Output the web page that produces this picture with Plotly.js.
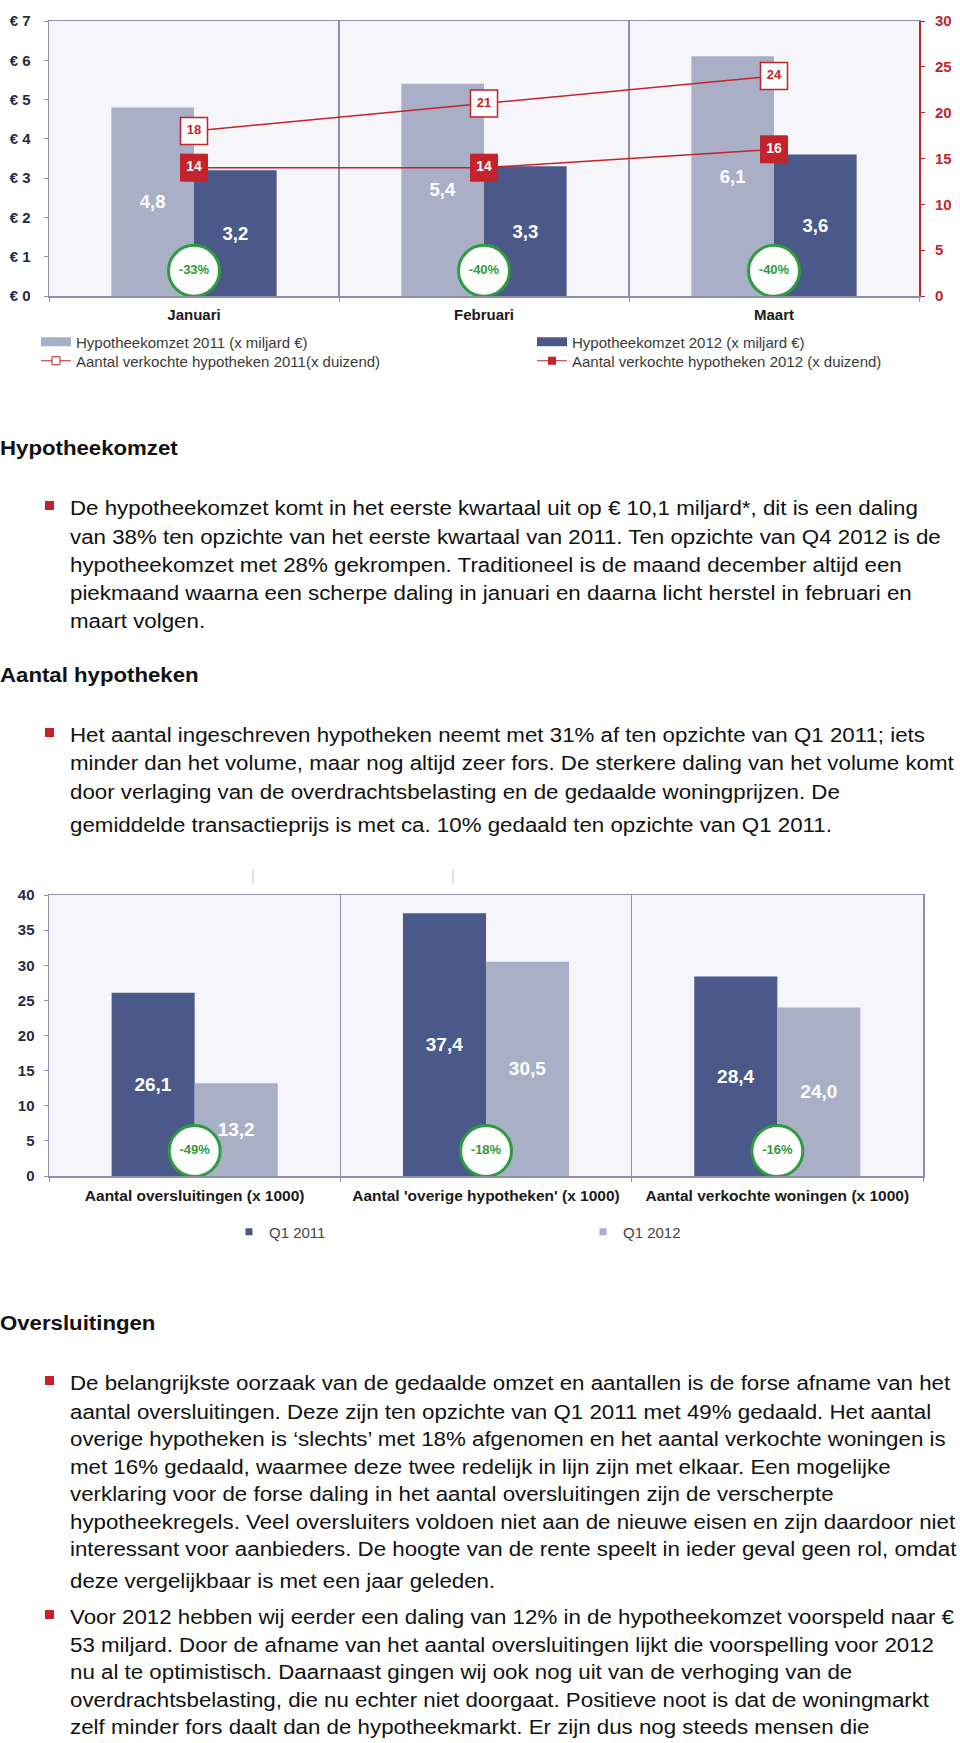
<!DOCTYPE html>
<html>
<head>
<meta charset="utf-8">
<script src="https://cdn.plot.ly/plotly-3.0.1.min.js"></script>
<style>
  html, body { margin:0; padding:0; background:#ffffff; }
  body { width:960px; height:1743px; position:relative; overflow:hidden;
         font-family:"Liberation Sans", Arial, Helvetica, sans-serif; color:#111; }
  #chart1 { position:absolute; left:0; top:0; width:960px; height:380px; }
  #chart2 { position:absolute; left:0; top:860px; width:960px; height:400px; }
  .ln { position:absolute; left:70px; height:28px; line-height:28px; font-size:20px;
        white-space:nowrap; transform-origin:0 50%; transform:scaleX(1.115); }
  .hd { position:absolute; left:0; height:28px; line-height:28px; font-size:20px; font-weight:bold;
        white-space:nowrap; transform-origin:0 50%; transform:scaleX(1.11); }
  .bl { position:absolute; left:45px; width:8.5px; height:8.5px; background:#c8202a; }
</style>
</head>
<body>
<div id="chart1"></div>
<div id="chart2"></div>
<div id="text"></div>
<script>
// ---------- Chart 1 data ----------
const months = ['Januari', 'Februari', 'Maart'];
const omzet2011 = [4.8, 5.4, 6.1];
const omzet2012 = [3.2, 3.3, 3.6];
const verkocht2011 = [18, 21, 24];
const verkocht2012 = [14, 14, 16];
const daling1 = ['-33%', '-40%', '-40%'];
const euroTicks = [0, 1, 2, 3, 4, 5, 6, 7];
const euroTickLabels = ['€ 0', '€ 1', '€ 2', '€ 3', '€ 4', '€ 5', '€ 6', '€ 7'];

// ---------- Chart 2 data ----------
const cats2 = ['Aantal oversluitingen (x 1000)', "Aantal 'overige hypotheken' (x 1000)", 'Aantal verkochte woningen (x 1000)'];
const q1_2011 = [26.1, 37.4, 28.4];
const q1_2012 = [13.2, 30.5, 24.0];
const daling2 = ['-49%', '-18%', '-16%'];

// ---------- styling ----------
const FONT = 'Liberation Sans, Arial, Helvetica, sans-serif';
const LIGHT = '#a9afc7';
const DARK = '#4b598a';
const RED = '#c4232b';
const GREEN = '#2e9b3e';
const FRAME = '#8e90a6';
const AXISTXT = '#262a45';
const CIRCLE_Y1 = 0.64;
const CIRCLE_Y2 = 3.56;

function legendAt(xpx, ypx, w, h) {
  return { xref:'container', yref:'container', x: xpx / w, y: 1 - ypx / h,
           xanchor:'left', yanchor:'middle', bgcolor:'rgba(0,0,0,0)',
           font:{ family:FONT, size:15, color:'#3a3a3a' } };
}

const t1 = [
  { type:'bar', x:months, y:omzet2011, marker:{color:LIGHT}, showlegend:false, hoverinfo:'skip',
    texttemplate:'%{y:.1f}', textposition:'inside', insidetextanchor:'middle', textangle:0,
    textfont:{family:FONT, size:18.5, color:'#ffffff', weight:'bold'} },
  { type:'bar', x:months, y:omzet2012, marker:{color:DARK}, showlegend:false, hoverinfo:'skip',
    texttemplate:'%{y:.1f}', textposition:'inside', insidetextanchor:'middle', textangle:0,
    textfont:{family:FONT, size:18.5, color:'#ffffff', weight:'bold'} },
  { type:'scatter', x:months, y:months.map(() => CIRCLE_Y1), mode:'markers+text', text:daling1,
    textposition:'middle center', cliponaxis:false, showlegend:false, hoverinfo:'skip',
    marker:{symbol:'circle', size:51, color:'#ffffff', line:{color:GREEN, width:3}},
    textfont:{family:FONT, size:13, color:GREEN, weight:'bold'} },
  { type:'scatter', x:months, y:verkocht2011, yaxis:'y2', mode:'lines+markers+text',
    text:verkocht2011.map(String), textposition:'middle center', cliponaxis:false,
    showlegend:false, hoverinfo:'skip', line:{color:RED, width:1.5},
    marker:{symbol:'square', size:27, color:'#ffffff', line:{color:RED, width:1.5}},
    textfont:{family:FONT, size:13, color:RED, weight:'bold'} },
  { type:'scatter', x:months, y:verkocht2012, yaxis:'y2', mode:'lines+markers+text',
    text:verkocht2012.map(String), textposition:'middle center', cliponaxis:false,
    showlegend:false, hoverinfo:'skip', line:{color:RED, width:1.5},
    marker:{symbol:'square', size:27, color:RED, line:{color:RED, width:1}},
    textfont:{family:FONT, size:14, color:'#ffffff', weight:'bold'} },
  // legend entries
  { type:'scatter', x:[null], y:[null], mode:'lines', name:'Hypotheekomzet 2011 (x miljard €)',
    line:{color:LIGHT, width:9}, legend:'legend', hoverinfo:'skip' },
  { type:'scatter', x:[null], y:[null], mode:'lines', name:'Hypotheekomzet 2012 (x miljard €)',
    line:{color:DARK, width:9}, legend:'legend2', hoverinfo:'skip' },
  { type:'scatter', x:[null], y:[null], mode:'lines+markers', name:'Aantal verkochte hypotheken 2011(x duizend)',
    line:{color:RED, width:1.2}, marker:{symbol:'square', size:8, color:'#ffffff', line:{color:RED, width:1}},
    legend:'legend3', hoverinfo:'skip' },
  { type:'scatter', x:[null], y:[null], mode:'lines+markers', name:'Aantal verkochte hypotheken 2012 (x duizend)',
    line:{color:RED, width:1.2}, marker:{symbol:'square', size:8, color:RED},
    legend:'legend4', hoverinfo:'skip' }
];

const W = 960, H1 = 380, H2 = 400;
const l1 = {
  width:W, height:H1, margin:{l:49, r:41, t:21, b:84, autoexpand:false},
  paper_bgcolor:'rgba(0,0,0,0)', plot_bgcolor:'#f5f5fa',
  separators:',.', barmode:'group', bargap:0.43, bargroupgap:0,
  font:{family:FONT},
  xaxis:{type:'category', tickson:'boundaries', showgrid:true, gridcolor:FRAME, gridwidth:1.2,
         ticks:'outside', ticklen:4, tickcolor:FRAME, showline:true, linecolor:FRAME, linewidth:1.5,
         mirror:true, ticklabelstandoff:4, fixedrange:true, automargin:false, tickangle:0,
         tickfont:{family:FONT, size:15, color:'#1a1a1a', weight:'bold'}},
  yaxis:{range:[0,7], tickmode:'array', tickvals:euroTicks, ticktext:euroTickLabels,
         showgrid:false, zeroline:false,
         ticks:'outside', ticklen:4, tickcolor:FRAME, showline:true, linecolor:FRAME, linewidth:1.5,
         ticklabelstandoff:10, fixedrange:true, automargin:false,
         tickfont:{family:FONT, size:15, color:AXISTXT, weight:'bold'}},
  yaxis2:{overlaying:'y', side:'right', range:[0,30], dtick:5, showgrid:false, zeroline:false,
          ticks:'outside', ticklen:4, tickcolor:RED, showline:true, linecolor:RED, linewidth:1.5,
          tickprefix:'\u2002', fixedrange:true, automargin:false,
          tickfont:{family:FONT, size:15, color:RED, weight:'bold'}},
  legend: legendAt(36, 342, W, H1),
  legend2: legendAt(532, 342, W, H1),
  legend3: legendAt(36, 361, W, H1),
  legend4: legendAt(532, 361, W, H1)
};

Plotly.newPlot('chart1', t1, l1, {displayModeBar:false, staticPlot:true});

const t2 = [
  { type:'bar', x:cats2, y:q1_2011, marker:{color:DARK}, showlegend:false, hoverinfo:'skip',
    texttemplate:'%{y:.1f}', textposition:'inside', insidetextanchor:'middle', textangle:0,
    textfont:{family:FONT, size:19, color:'#ffffff', weight:'bold'} },
  { type:'bar', x:cats2, y:q1_2012, marker:{color:LIGHT}, showlegend:false, hoverinfo:'skip',
    texttemplate:'%{y:.1f}', textposition:'inside', insidetextanchor:'middle', textangle:0,
    textfont:{family:FONT, size:19, color:'#ffffff', weight:'bold'} },
  { type:'scatter', x:cats2, y:cats2.map(() => CIRCLE_Y2), mode:'markers+text', text:daling2,
    textposition:'middle center', cliponaxis:false, showlegend:false, hoverinfo:'skip',
    marker:{symbol:'circle', size:51, color:'#ffffff', line:{color:GREEN, width:3}},
    textfont:{family:FONT, size:13, color:GREEN, weight:'bold'} },
  { type:'scatter', x:[null], y:[null], mode:'markers', name:'Q1 2011',
    marker:{symbol:'square', size:7, color:DARK}, legend:'legend', hoverinfo:'skip' },
  { type:'scatter', x:[null], y:[null], mode:'markers', name:'Q1 2012',
    marker:{symbol:'square', size:7, color:LIGHT}, legend:'legend2', hoverinfo:'skip' }
];

const l2 = {
  width:W, height:H2, margin:{l:49, r:37, t:35, b:84, autoexpand:false},
  paper_bgcolor:'rgba(0,0,0,0)', plot_bgcolor:'#f5f5fa',
  separators:',.', barmode:'group', bargap:0.43, bargroupgap:0,
  font:{family:FONT},
  xaxis:{type:'category', tickson:'boundaries', showgrid:true, gridcolor:FRAME, gridwidth:1.2,
         ticks:'outside', ticklen:4, tickcolor:FRAME, showline:true, linecolor:FRAME, linewidth:1.5,
         mirror:true, ticklabelstandoff:5, fixedrange:true, automargin:false, tickangle:0,
         tickfont:{family:FONT, size:15.5, color:'#1a1a1a', weight:'bold'}},
  yaxis:{range:[0,40], dtick:5, showgrid:false, zeroline:false,
         ticks:'outside', ticklen:4, tickcolor:FRAME, showline:true, linecolor:FRAME, linewidth:1.5,
         mirror:true, ticklabelstandoff:6, fixedrange:true, automargin:false,
         tickfont:{family:FONT, size:15, color:AXISTXT, weight:'bold'}},
  shapes:[
    {type:'line', xref:'paper', yref:'paper', x0:0.2334, x1:0.2334, y0:1.039, y1:1.089, line:{color:'#d6d6d6', width:1.5}},
    {type:'line', xref:'paper', yref:'paper', x0:0.4622, x1:0.4622, y0:1.039, y1:1.089, line:{color:'#d6d6d6', width:1.5}}
  ],
  legend: Object.assign(legendAt(229, 372, W, H2), {font:{family:FONT, size:15, color:'#444'}}),
  legend2: Object.assign(legendAt(583, 372, W, H2), {font:{family:FONT, size:15, color:'#444'}})
};

Plotly.newPlot('chart2', t2, l2, {displayModeBar:false, staticPlot:true});

// ---------- text ----------
const blocks = [
  {h:'Hypotheekomzet', hy:448},
  {b:[
    ['De hypotheekomzet komt in het eerste kwartaal uit op € 10,1 miljard*, dit is een daling', 508],
    ['van 38% ten opzichte van het eerste kwartaal van 2011. Ten opzichte van Q4 2012 is de', 537],
    ['hypotheekomzet met 28% gekrompen. Traditioneel is de maand december altijd een', 565],
    ['piekmaand waarna een scherpe daling in januari en daarna licht herstel in februari en', 593],
    ['maart volgen.', 621]
  ]},
  {h:'Aantal hypotheken', hy:675},
  {b:[
    ['Het aantal ingeschreven hypotheken neemt met 31% af ten opzichte van Q1 2011; iets', 735],
    ['minder dan het volume, maar nog altijd zeer fors. De sterkere daling van het volume komt', 763],
    ['door verlaging van de overdrachtsbelasting en de gedaalde woningprijzen. De', 792],
    ['gemiddelde transactieprijs is met ca. 10% gedaald ten opzichte van Q1 2011.', 825]
  ]},
  {h:'Oversluitingen', hy:1323},
  {b:[
    ['De belangrijkste oorzaak van de gedaalde omzet en aantallen is de forse afname van het', 1383],
    ['aantal oversluitingen. Deze zijn ten opzichte van Q1 2011 met 49% gedaald. Het aantal', 1412],
    ['overige hypotheken is \u2018slechts\u2019 met 18% afgenomen en het aantal verkochte woningen is', 1439],
    ['met 16% gedaald, waarmee deze twee redelijk in lijn zijn met elkaar. Een mogelijke', 1467],
    ['verklaring voor de forse daling in het aantal oversluitingen zijn de verscherpte', 1494],
    ['hypotheekregels. Veel oversluiters voldoen niet aan de nieuwe eisen en zijn daardoor niet', 1522],
    ['interessant voor aanbieders. De hoogte van de rente speelt in ieder geval geen rol, omdat', 1549],
    ['deze vergelijkbaar is met een jaar geleden.', 1581]
  ]},
  {b:[
    ['Voor 2012 hebben wij eerder een daling van 12% in de hypotheekomzet voorspeld naar €', 1617],
    ['53 miljard. Door de afname van het aantal oversluitingen lijkt die voorspelling voor 2012', 1645],
    ['nu al te optimistisch. Daarnaast gingen wij ook nog uit van de verhoging van de', 1672],
    ['overdrachtsbelasting, die nu echter niet doorgaat. Positieve noot is dat de woningmarkt', 1700],
    ['zelf minder fors daalt dan de hypotheekmarkt. Er zijn dus nog steeds mensen die', 1727]
  ]}
];
const host = document.getElementById('text');
blocks.forEach(bk => {
  if (bk.h) {
    const d = document.createElement('div'); d.className = 'hd';
    d.style.top = (bk.hy - 14) + 'px'; d.textContent = bk.h; host.appendChild(d);
  } else {
    const sq = document.createElement('div'); sq.className = 'bl';
    sq.style.top = (bk.b[0][1] - 7) + 'px'; host.appendChild(sq);
    bk.b.forEach(([s, y]) => {
      const d = document.createElement('div'); d.className = 'ln';
      d.style.top = (y - 14) + 'px'; d.textContent = s; host.appendChild(d);
    });
  }
});
</script>
</body>
</html>
